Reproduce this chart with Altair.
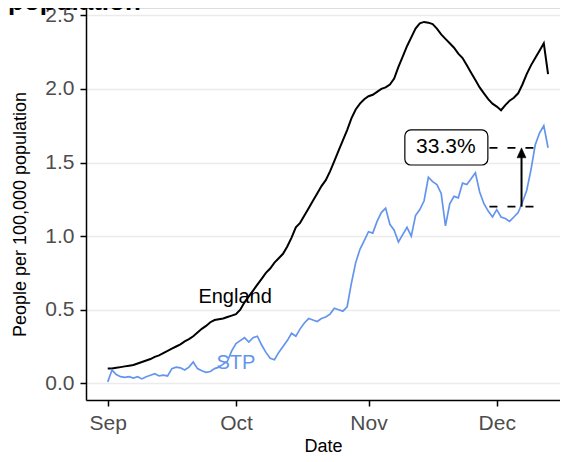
import altair as alt
import pandas as pd

# ---- data ----
start_date = "2020-09-01"
england = [0.10, 0.10, 0.105, 0.11, 0.115, 0.12, 0.125, 0.135, 0.145, 0.155,
           0.165, 0.18, 0.19, 0.205, 0.22, 0.235, 0.25, 0.265, 0.285, 0.30,
           0.32, 0.345, 0.37, 0.39, 0.415, 0.43, 0.435, 0.44, 0.45, 0.46,
           0.47, 0.50, 0.55, 0.59, 0.63, 0.67, 0.71, 0.75, 0.78, 0.82,
           0.85, 0.88, 0.93, 0.99, 1.06, 1.09, 1.14, 1.19, 1.24, 1.29,
           1.34, 1.38, 1.44, 1.51, 1.58, 1.65, 1.72, 1.80, 1.86, 1.90,
           1.93, 1.95, 1.96, 1.98, 2.00, 2.01, 2.03, 2.07, 2.15, 2.22,
           2.29, 2.35, 2.41, 2.445, 2.455, 2.45, 2.44, 2.41, 2.37, 2.34,
           2.31, 2.28, 2.24, 2.21, 2.16, 2.11, 2.06, 2.01, 1.97, 1.93,
           1.90, 1.88, 1.855, 1.89, 1.92, 1.94, 1.97, 2.03, 2.10, 2.16,
           2.21, 2.26, 2.31, 2.10]
stp = [0.01, 0.09, 0.06, 0.045, 0.04, 0.045, 0.035, 0.045, 0.03, 0.045,
       0.055, 0.065, 0.05, 0.055, 0.05, 0.10, 0.11, 0.105, 0.09, 0.11,
       0.145, 0.10, 0.085, 0.075, 0.08, 0.10, 0.11, 0.13, 0.15, 0.22,
       0.27, 0.29, 0.31, 0.28, 0.31, 0.32, 0.26, 0.21, 0.17, 0.16,
       0.21, 0.25, 0.29, 0.34, 0.32, 0.37, 0.41, 0.44, 0.43, 0.42,
       0.44, 0.45, 0.47, 0.51, 0.50, 0.49, 0.52, 0.68, 0.82, 0.91,
       0.97, 1.03, 1.02, 1.10, 1.16, 1.19, 1.08, 1.04, 0.96, 1.01,
       1.06, 1.00, 1.14, 1.18, 1.24, 1.40, 1.37, 1.35, 1.29, 1.07,
       1.22, 1.27, 1.26, 1.36, 1.35, 1.39, 1.43, 1.30, 1.22, 1.17,
       1.13, 1.18, 1.13, 1.12, 1.10, 1.13, 1.16, 1.23, 1.31, 1.45,
       1.62, 1.70, 1.75, 1.60]

series_names = ["England", "STP"]
series_colors = ["black", "#6495ED"]
label_dates = ["2020-09-30T19:00:00Z", "2020-10-01T00:00:00Z"]
label_values = [0.586, 0.138]

y_ticks = [0.0, 0.5, 1.0, 1.5, 2.0, 2.5]
month_ticks = [(2020, 9), (2020, 10), (2020, 11), (2020, 12)]

# annotation: rise of STP from 1.2 to 1.6
ann_text = "33.3%"
ann_low = 1.2
ann_high = 1.6
ann_text_date = "2020-11-19T02:00:00Z"
ann_box_dates = ["2020-11-09T12:00:00Z", "2020-11-28T22:00:00Z"]
ann_box_values = [1.483, 1.721]
ann_dash_dates = ["2020-11-29T07:00:00Z", "2020-12-10T12:00:00Z"]
ann_arrow_date = "2020-12-06T19:00:00Z"

title_text = "population"
FONT = "Liberation Sans"

# ---- build tables ----
start = pd.Timestamp(start_date)
dates = [(start + pd.Timedelta(days=i)).strftime("%Y-%m-%d") for i in range(len(england))]
df = pd.DataFrame({
    "date": dates * 2,
    "value": england + stp,
    "series": ["England"] * len(england) + ["STP"] * len(stp),
})
labels_df = pd.DataFrame({"date": label_dates, "value": label_values, "series": series_names})
dash_df = pd.DataFrame({"x": [ann_dash_dates[0]] * 2, "x2": [ann_dash_dates[1]] * 2,
                        "y": [ann_low, ann_high]})
arrow_df = pd.DataFrame({"x": [ann_arrow_date], "y": [ann_low], "y2": [ann_high - 0.03],
                         "tip": [ann_high]})
box_df = pd.DataFrame({"x": [ann_box_dates[0]], "x2": [ann_box_dates[1]],
                       "y": [ann_box_values[0]], "y2": [ann_box_values[1]],
                       "tx": [ann_text_date], "ty": [(ann_box_values[0] + ann_box_values[1]) / 2],
                       "label": [ann_text]})
title_df = pd.DataFrame({"t": [title_text]})

x_scale = alt.Scale(type="utc",
                    domain=[alt.DateTime(year=2020, month=8, date=26, hours=22, utc=True),
                            alt.DateTime(year=2020, month=12, date=15, hours=19, utc=True)])
y_scale = alt.Scale(domain=[-0.1134, 2.5496], nice=False, zero=False)
color_scale = alt.Scale(domain=series_names, range=series_colors)

x_axis = alt.Axis(values=[alt.DateTime(year=y, month=m, date=1, utc=True) for y, m in month_ticks],
                  format="%b", labelFontSize=21, labelColor="#4D4D4D", labelFont=FONT,
                  tickColor="black", tickSize=6, tickWidth=1.5, domainColor="black",
                  domainWidth=1.5, grid=False, labelPadding=6,
                  title="Date", titleFont=FONT, titleFontSize=18, titleFontWeight="normal",
                  titleColor="black", titleY=51, titleBaseline="alphabetic")
y_axis = alt.Axis(values=y_ticks, format=".1f", labelFontSize=21, labelColor="#4D4D4D",
                  labelFont=FONT, tickColor="black", tickSize=6, tickWidth=1.5,
                  domainColor="black", domainWidth=1.5, grid=True, gridColor="#EBEBEB",
                  gridWidth=1.3, labelPadding=6,
                  title="People per 100,000 population", titleFont=FONT, titleFontSize=18,
                  titleFontWeight="normal", titleColor="black", titleX=-61, titleY=206,
                  titleAngle=270, titleBaseline="alphabetic", titleAlign="center")

X = alt.X("date:T", scale=x_scale, axis=x_axis)
Y = alt.Y("value:Q", scale=y_scale, axis=y_axis)

lines = alt.Chart(df).mark_line().encode(
    x=X, y=Y,
    color=alt.Color("series:N", scale=color_scale, legend=None),
    strokeWidth=alt.StrokeWidth("series:N", scale=alt.Scale(domain=series_names, range=[2.0, 1.7]),
                                legend=None),
)

texts = alt.Chart(labels_df).mark_text(fontSize=20, font=FONT, baseline="middle", align="center").encode(
    x=alt.X("date:T", scale=x_scale),
    y=alt.Y("value:Q", scale=y_scale),
    text="series:N",
    color=alt.Color("series:N", scale=color_scale, legend=None),
)

dashes = alt.Chart(dash_df).mark_rule(color="black", strokeWidth=1.8, strokeDash=[8, 10]).encode(
    x=alt.X("x:T", scale=x_scale), x2="x2:T", y=alt.Y("y:Q", scale=y_scale))

shaft = alt.Chart(arrow_df).mark_rule(color="black", strokeWidth=2).encode(
    x=alt.X("x:T", scale=x_scale), y=alt.Y("y:Q", scale=y_scale), y2="y2:Q")

head = alt.Chart(arrow_df).mark_point(shape="M0,0L-0.45,1L0.45,1Z", size=400, filled=True,
                                      fill="black", stroke="black", strokeWidth=0.5, opacity=1).encode(
    x=alt.X("x:T", scale=x_scale), y=alt.Y("tip:Q", scale=y_scale))

box = alt.Chart(box_df).mark_rect(fill="white", stroke="black", strokeWidth=1.2, cornerRadius=6).encode(
    x=alt.X("x:T", scale=x_scale), x2="x2:T",
    y=alt.Y("y:Q", scale=y_scale), y2="y2:Q")

box_text = alt.Chart(box_df).mark_text(fontSize=21, font=FONT, color="black",
                                       baseline="middle", align="center").encode(
    x=alt.X("tx:T", scale=x_scale), y=alt.Y("ty:Q", scale=y_scale), text="label:N")

title = alt.Chart(title_df).mark_text(fontSize=26, font=FONT, fontWeight="bold", align="left",
                                      baseline="alphabetic", color="black").encode(
    x=alt.value(-78), y=alt.value(2), text="t:N")

chart = alt.layer(lines, texts, dashes, shaft, head, box, box_text, title).properties(
    width=474, height=392,
    autosize=alt.AutoSizeParams(type="none"),
    padding={"left": 78, "top": 0, "right": 0, "bottom": 52},
).configure_view(strokeWidth=0).configure(background="white")

chart.save("out.html", embed_options={"renderer": "svg", "actions": False})
